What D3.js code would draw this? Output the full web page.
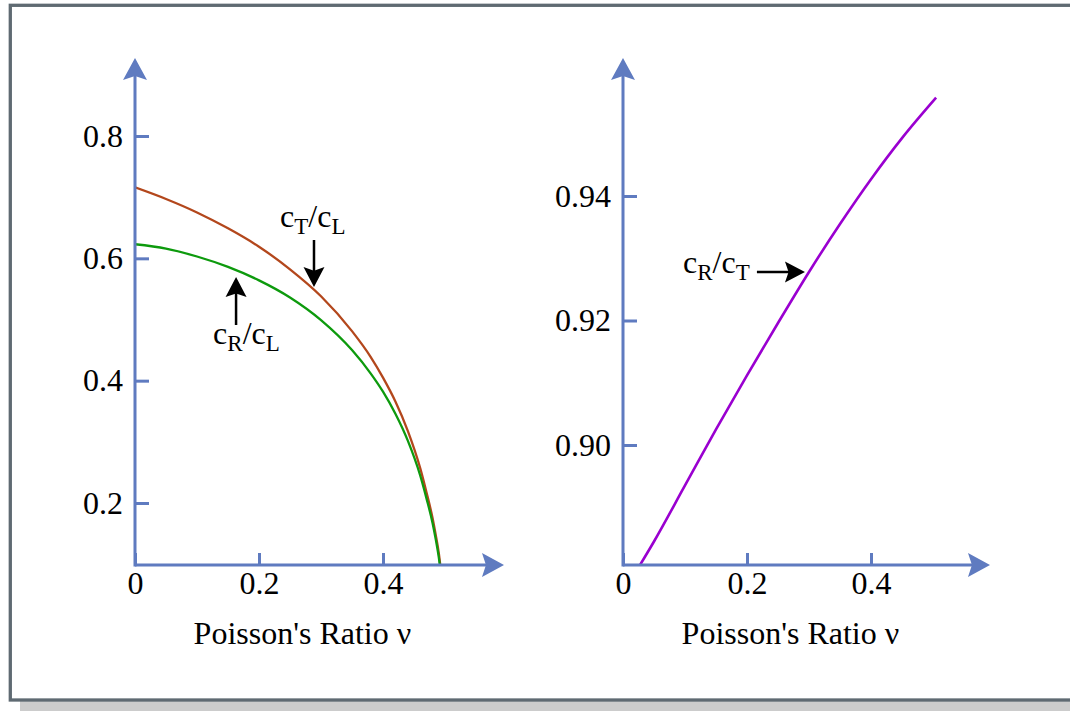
<!DOCTYPE html>
<html>
<head>
<meta charset="utf-8">
<script src="https://cdn.jsdelivr.net/npm/d3@7"></script>
<style>
  body { margin: 0; background: #fff; }
  text { font-family: "Liberation Serif", "Times New Roman", serif; fill: #000; }
</style>
</head>
<body>
<svg id="chart" width="1070" height="711"></svg>
<script>
// values
const nuLeft = [0, 0.05, 0.1, 0.15, 0.2, 0.25, 0.3, 0.35, 0.38, 0.4, 0.42, 0.44, 0.46, 0.47, 0.48, 0.485, 0.49, 0.495];
const ctOverCl = [0.716, 0.697, 0.675, 0.649, 0.619, 0.582, 0.538, 0.481, 0.439, 0.405, 0.366, 0.318, 0.257, 0.218, 0.175, 0.148, 0.118, 0.075];
const crOverCl = [0.623, 0.616, 0.603, 0.586, 0.564, 0.536, 0.499, 0.450, 0.412, 0.382, 0.346, 0.302, 0.245, 0.208, 0.167, 0.141, 0.111, 0.070];

const nuRight = [0.02, 0.05, 0.1, 0.15, 0.2, 0.25, 0.3, 0.35, 0.4, 0.45, 0.505];
const crOverCt = [0.8795, 0.8845, 0.8935, 0.9025, 0.9112, 0.9196, 0.9278, 0.9355, 0.9427, 0.9493, 0.9558];

const xTicks = [0, 0.2, 0.4];
const yTicksLeft = [0.2, 0.4, 0.6, 0.8];
const yTicksRight = [0.90, 0.92, 0.94];
const xTitle = "Poisson's Ratio \u03bd";

const axisColor = "#5f7bc0";
const tickSize = 32;
const titleSize = 32;
const labelSize = 32;
const subSize = 23;

const svg = d3.select("#chart");

// frame with drop shadow
svg.append("rect")
  .attr("x", 20).attr("y", 15).attr("width", 1100).attr("height", 700)
  .attr("fill", "#cccccc");
svg.append("rect")
  .attr("x", 10.3).attr("y", 5.3).attr("width", 1100).attr("height", 694.7)
  .attr("fill", "#fff").attr("stroke", "#5f6a72").attr("stroke-width", 3.3);

// notched arrow head pointing right, with tip at origin
const headPath = (len, w) =>
  `M0,0 L${-len},${-w} L${-len * 0.82},0 L${-len},${w} Z`;

const panels = [
  {
    x: d3.scaleLinear().domain([0, 0.4]).range([135, 383]),
    y: d3.scaleLinear().domain([0.2, 0.8]).range([503, 136]),
    xEnd: 504,
    yFmt: d3.format(".1f"),
    yTicks: yTicksLeft,
    series: [
      { nu: nuLeft, v: ctOverCl, color: "#b3471c", width: 2.3 },
      { nu: nuLeft, v: crOverCl, color: "#0d9a0d", width: 2.3 }
    ],
    labels: [
      { text: ["c", "T", "/c", "L"], nu: 0.234, v: 0.651 },
      { text: ["c", "R", "/c", "L"], nu: 0.126, v: 0.460 }
    ],
    arrows: [
      { from: [0.2887, 0.630], to: [0.2887, 0.553] },
      { from: [0.163, 0.491], to: [0.163, 0.5695] }
    ]
  },
  {
    x: d3.scaleLinear().domain([0, 0.4]).range([623, 871]),
    y: d3.scaleLinear().domain([0.90, 0.94]).range([445, 196]),
    xEnd: 990,
    yFmt: d3.format(".2f"),
    yTicks: yTicksRight,
    series: [
      { nu: nuRight, v: crOverCt, color: "#9a00d0", width: 2.6 }
    ],
    labels: [
      { text: ["c", "R", "/c", "T"], nu: 0.0968, v: 0.9276 }
    ],
    arrows: [
      { from: [0.216, 0.9278], to: [0.2935, 0.9278] }
    ]
  }
];

const baseY = 565;
const topY = 58;

panels.forEach((p, i) => {
  const g = svg.append("g");
  const x0 = p.x(0);

  // clip so curves stop on the x axis
  svg.append("clipPath").attr("id", "clip" + i)
    .append("rect")
    .attr("x", x0).attr("y", 0)
    .attr("width", p.xEnd - x0).attr("height", baseY);

  // ticks and tick labels
  const xAxis = g.append("g")
    .attr("transform", `translate(0,${baseY})`)
    .call(d3.axisBottom(p.x).tickValues(xTicks).tickSize(-12).tickPadding(6)
      .tickFormat(d => d === 0 ? "0" : d3.format(".1f")(d)));
  const yAxis = g.append("g")
    .attr("transform", `translate(${x0},0)`)
    .call(d3.axisLeft(p.y).tickValues(p.yTicks).tickSize(-14).tickPadding(12)
      .tickFormat(p.yFmt));

  [xAxis, yAxis].forEach(a => {
    a.select(".domain").remove();
    a.selectAll(".tick line").attr("stroke", axisColor).attr("stroke-width", 3);
    a.selectAll(".tick text")
      .attr("fill", "#000")
      .style("font-family", '"Liberation Serif", "Times New Roman", serif')
      .style("font-size", tickSize + "px");
  });

  // curves
  p.series.forEach(s => {
    const pts = s.nu.map((n, k) => [n, s.v[k]]);
    g.append("path")
      .datum(pts)
      .attr("clip-path", `url(#clip${i})`)
      .attr("fill", "none")
      .attr("stroke", s.color)
      .attr("stroke-width", s.width)
      .attr("d", d3.line()
        .x(d => p.x(d[0]))
        .y(d => p.y(d[1]))
        .curve(d3.curveMonotoneX));
  });

  // axis lines with arrow heads
  g.append("line")
    .attr("x1", x0).attr("y1", baseY).attr("x2", p.xEnd - 10).attr("y2", baseY)
    .attr("stroke", axisColor).attr("stroke-width", 3);
  g.append("line")
    .attr("x1", x0).attr("y1", baseY + 1.5).attr("x2", x0).attr("y2", topY + 10)
    .attr("stroke", axisColor).attr("stroke-width", 3);
  g.append("path")
    .attr("d", headPath(22, 12))
    .attr("transform", `translate(${p.xEnd},${baseY})`)
    .attr("fill", axisColor);
  g.append("path")
    .attr("d", headPath(22, 12))
    .attr("transform", `translate(${x0},${topY}) rotate(-90)`)
    .attr("fill", axisColor);

  // axis title
  g.append("text")
    .attr("x", p.x(0.27)).attr("y", 644)
    .attr("text-anchor", "middle")
    .style("font-size", titleSize + "px")
    .text(xTitle);

  // curve labels with subscripts
  p.labels.forEach(l => {
    const t = g.append("text")
      .attr("x", p.x(l.nu)).attr("y", p.y(l.v))
      .style("font-size", labelSize + "px");
    t.append("tspan").text(l.text[0]);
    t.append("tspan").attr("dy", 7).style("font-size", subSize + "px").text(l.text[1]);
    t.append("tspan").attr("dy", -7).text(l.text[2]);
    t.append("tspan").attr("dy", 7).style("font-size", subSize + "px").text(l.text[3]);
  });

  // pointer arrows
  p.arrows.forEach(a => {
    const x1 = p.x(a.from[0]), y1 = p.y(a.from[1]);
    const x2 = p.x(a.to[0]), y2 = p.y(a.to[1]);
    const ang = Math.atan2(y2 - y1, x2 - x1);
    const head = 20;
    g.append("line")
      .attr("x1", x1).attr("y1", y1)
      .attr("x2", x2 - Math.cos(ang) * head * 0.7)
      .attr("y2", y2 - Math.sin(ang) * head * 0.7)
      .attr("stroke", "#000").attr("stroke-width", 2.5);
    g.append("path")
      .attr("d", headPath(head, 10.5))
      .attr("transform", `translate(${x2},${y2}) rotate(${ang * 180 / Math.PI})`)
      .attr("fill", "#000");
  });
});
</script>
</body>
</html>
